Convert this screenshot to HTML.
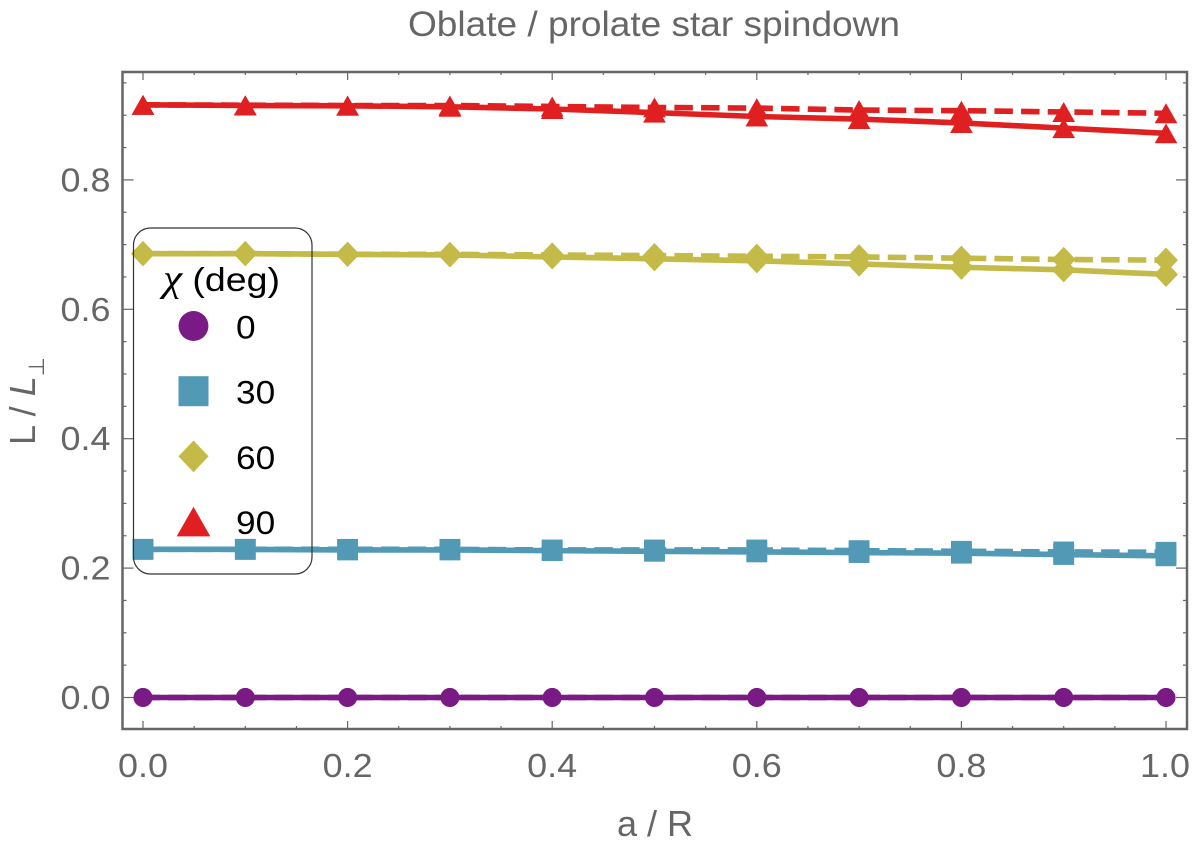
<!DOCTYPE html>
<html><head><meta charset="utf-8"><title>Oblate / prolate star spindown</title>
<style>
html,body{margin:0;padding:0;background:#fff}
svg{display:block;font-family:"Liberation Sans",Arial,sans-serif}
</style></head>
<body>
<svg id="chart" xmlns="http://www.w3.org/2000/svg" width="1200" height="849" viewBox="0 0 1200 849">
<rect x="0" y="0" width="1200" height="849" fill="#fff"/>
<text x="654" y="36" text-anchor="middle" font-size="35" fill="#666" textLength="492" lengthAdjust="spacingAndGlyphs">Oblate / prolate star spindown</text>
<g id="ticks"></g>
<g id="series"></g>
<rect x="122.5" y="72" width="1064.5" height="657" fill="none" stroke="#666" stroke-width="2.5"/>
<g id="labels"></g>
<text x="655" y="836" text-anchor="middle" font-size="36" fill="#666">a / R</text>
<text transform="translate(35,445) rotate(-90)" font-size="36" fill="#666">L / <tspan font-style="italic">L</tspan><tspan font-size="22" dy="9">⊥</tspan></text>
<g id="legend">
<rect x="133.5" y="228" width="178.5" height="346" rx="17" ry="17" fill="none" stroke="#333" stroke-width="1.2"/>
<text x="163" y="291" font-size="33" fill="#000" textLength="117" lengthAdjust="spacingAndGlyphs"><tspan font-family="'Liberation Serif',serif" font-style="italic" font-size="38">χ</tspan> (deg)</text>
</g>
</svg>
<script>
var xValues = [0, 0.1, 0.2, 0.3, 0.4, 0.5, 0.6, 0.7, 0.8, 0.9, 1.0];
var angleLabels = ['0', '30', '60', '90'];
var colors = ['#7a1a85', '#5299b5', '#c4ba48', '#e02020'];
var shapes = ['circle', 'square', 'diamond', 'triangle'];
var solid0 = [0, 0, 0, 0, 0, 0, 0, 0, 0, 0, 0];
var dashed0 = [0, 0, 0, 0, 0, 0, 0, 0, 0, 0, 0];
var solid30 = [0.229, 0.229, 0.228, 0.228, 0.227, 0.226, 0.225, 0.224, 0.223, 0.221, 0.219];
var dashed30 = [0.229, 0.229, 0.229, 0.229, 0.228, 0.228, 0.228, 0.227, 0.226, 0.225, 0.2245];
var solid60 = [0.686, 0.686, 0.685, 0.684, 0.681, 0.678, 0.675, 0.670, 0.665, 0.661, 0.654];
var dashed60 = [0.686, 0.686, 0.685, 0.685, 0.684, 0.683, 0.682, 0.681, 0.679, 0.677, 0.676];
var solid90 = [0.916, 0.915, 0.9145, 0.913, 0.9096, 0.904, 0.898, 0.894, 0.888, 0.880, 0.872];
var dashed90 = [0.916, 0.9155, 0.915, 0.915, 0.9135, 0.912, 0.911, 0.908, 0.907, 0.905, 0.903];
var xTicks = [0, 0.2, 0.4, 0.6, 0.8, 1.0];
var yTicks = [0, 0.2, 0.4, 0.6, 0.8];
var xTickLabels = ['0.0', '0.2', '0.4', '0.6', '0.8', '1.0'];
var yTickLabels = ['0.0', '0.2', '0.4', '0.6', '0.8'];

var NS = 'http://www.w3.org/2000/svg';
function sx(v) { return 143 + v * 1023; }
function sy(v) { return 697.5 - v * 647; }
function make(tag, attrs, parent) {
  var el = document.createElementNS(NS, tag);
  for (var k in attrs) el.setAttribute(k, attrs[k]);
  parent.appendChild(el);
  return el;
}
function marker(shape, cx, cy, s, color, parent) {
  var el;
  if (shape === 'circle') {
    el = make('circle', {cx: cx, cy: cy, r: s * 0.9, fill: color}, parent);
  } else if (shape === 'square') {
    el = make('rect', {x: cx - s, y: cy - s, width: 2 * s, height: 2 * s, fill: color}, parent);
  } else if (shape === 'diamond') {
    el = make('polygon', {points: (cx - s * 1.14) + ',' + cy + ' ' + cx + ',' + (cy - s * 1.2) + ' ' + (cx + s * 1.14) + ',' + cy + ' ' + cx + ',' + (cy + s * 1.2), fill: color}, parent);
  } else {
    el = make('polygon', {points: (cx - s * 1.08) + ',' + (cy + s * 0.95) + ' ' + cx + ',' + (cy - s * 0.95) + ' ' + (cx + s * 1.08) + ',' + (cy + s * 0.95), fill: color}, parent);
  }
  return el;
}
var ticksG = document.getElementById('ticks');
var labelsG = document.getElementById('labels');
var seriesG = document.getElementById('series');
var legendG = document.getElementById('legend');

var i, j, t, el;
for (i = 0; i <= 20; i++) {
  t = i * 0.05;
  var xMajor = i % 4 === 0;
  var xLen = xMajor ? 8 : 3;
  el = make('line', {x1: sx(t), x2: sx(t), y1: 729, y2: 729 - xLen, stroke: '#666', 'stroke-width': 1.2}, ticksG);
  
  
  el = make('line', {x1: sx(t), x2: sx(t), y1: 72, y2: 72 + xLen, stroke: '#666', 'stroke-width': 1.2}, ticksG);
  
  
}
for (i = 0; i <= 19; i++) {
  t = i * 0.05;
  var yMajor = i % 4 === 0;
  var yLen = yMajor ? 11 : 4;
  el = make('line', {x1: 122.5, x2: 122.5 + yLen, y1: sy(t), y2: sy(t), stroke: '#666', 'stroke-width': 1.2}, ticksG);
  
  
  el = make('line', {x1: 1187, x2: 1187 - yLen, y1: sy(t), y2: sy(t), stroke: '#666', 'stroke-width': 1.2}, ticksG);
  
  
}
for (i = 0; i < xTicks.length; i++) {
  el = make('text', {x: sx(xTicks[i]) - (i === xTicks.length - 1 ? 1 : 0), y: 777, 'text-anchor': 'middle', 'font-size': 33.5, fill: '#666', textLength: 50, lengthAdjust: 'spacingAndGlyphs'}, labelsG);
  el.textContent = xTickLabels[i];
  
  
}
for (i = 0; i < yTicks.length; i++) {
  el = make('text', {x: 110.5, y: sy(yTicks[i]) + 11.5, 'text-anchor': 'end', 'font-size': 33.5, fill: '#666', textLength: 50, lengthAdjust: 'spacingAndGlyphs'}, labelsG);
  el.textContent = yTickLabels[i];
  
  
}

var solidSeries = [solid0, solid30, solid60, solid90];
var dashedSeries = [dashed0, dashed30, dashed60, dashed90];
var markerSizes = [10.5, 10.4, 10.5, 10.5];
var legendSizes = [16.6, 15, 13.2, 15.6];
function pointsOf(vals) {
  return vals.map(function (v, k) { return sx(xValues[k]) + ',' + sy(v); }).join(' ');
}
for (i = 0; i < 4; i++) {
  el = make('polyline', {points: pointsOf(dashedSeries[i]), fill: 'none', stroke: colors[i], 'stroke-width': 5.6, 'stroke-dasharray': '18.5 8.17', 'stroke-dashoffset': 2}, seriesG);
  
  
  el = make('polyline', {points: pointsOf(solidSeries[i]), fill: 'none', stroke: colors[i], 'stroke-width': 5.6}, seriesG);
  
  
  for (j = 0; j < xValues.length; j++) {
    el = marker(shapes[i], sx(xValues[j]), sy(dashedSeries[i][j]), markerSizes[i], colors[i], seriesG);
    
    
    el = marker(shapes[i], sx(xValues[j]), sy(solidSeries[i][j]), markerSizes[i], colors[i], seriesG);
    
    
  }
}
for (i = 0; i < 4; i++) {
  var cy = 326 + i * 65.2;
  el = marker(shapes[i], 193.5, cy, legendSizes[i], colors[i], legendG);
  
  
  el = make('text', {x: 236, y: cy + 12.5, 'font-size': 32, fill: '#000', textLength: 19.6 * angleLabels[i].length, lengthAdjust: 'spacingAndGlyphs'}, legendG);
  el.textContent = angleLabels[i];
  
  
}
</script>
</body></html>
